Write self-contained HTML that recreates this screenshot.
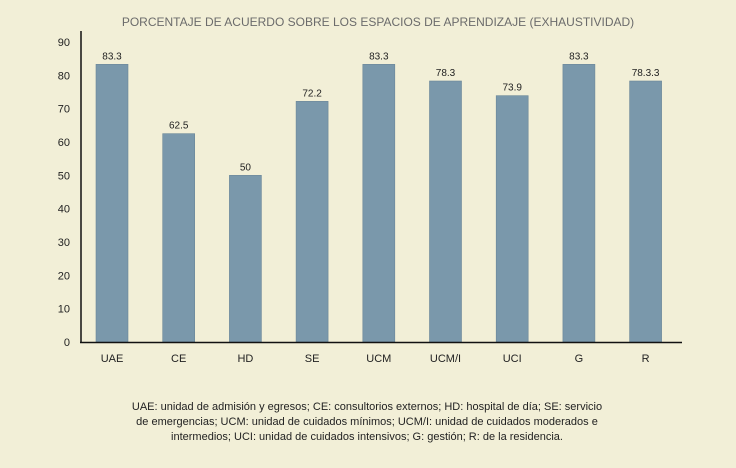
<!DOCTYPE html>
<html><head><meta charset="utf-8"><style>
html,body{margin:0;padding:0;background:#f2efd7;}
svg{display:block;font-family:"Liberation Sans",sans-serif;}
</style></head><body>
<svg width="736" height="468">
<rect x="0" y="0" width="736" height="468" fill="#f2efd7"/>
<text x="378" y="26" text-anchor="middle" font-size="12" fill="#6b6b6b">PORCENTAJE DE ACUERDO SOBRE LOS ESPACIOS DE APRENDIZAJE (EXHAUSTIVIDAD)</text>
<g id="ticks"></g>
<g id="bars"></g>
<line x1="81" y1="31" x2="81" y2="343" stroke="#111" stroke-width="1.5"/>
<line x1="80" y1="342.5" x2="682" y2="342.5" stroke="#111" stroke-width="1.5"/>
<g font-size="11" fill="#222" text-anchor="middle">
<text x="367" y="410">UAE: unidad de admisión y egresos; CE: consultorios externos; HD: hospital de día; SE: servicio</text>
<text x="367" y="425">de emergencias; UCM: unidad de cuidados mínimos; UCM/I: unidad de cuidados moderados e</text>
<text x="367" y="440">intermedios; UCI: unidad de cuidados intensivos; G: gestión; R: de la residencia.</text>
</g>
</svg>
<script>
const categories=["UAE","CE","HD","SE","UCM","UCM/I","UCI","G","R"];
const values=[83.3,62.5,50,72.2,83.3,78.3,73.9,83.3,78.3];
const valueLabels=["83.3","62.5","50","72.2","83.3","78.3","73.9","83.3","78.3.3"];
const yTicks=[0,10,20,30,40,50,60,70,80,90];
const NS="http://www.w3.org/2000/svg";
const y=v=>342-v*300/90;
const x=i=>112+i*66.7;
function mk(t,a,p){const e=document.createElementNS(NS,t);for(const k in a)e.setAttribute(k,a[k]);p.appendChild(e);return e;}
const tg=document.getElementById('ticks');
yTicks.forEach(t=>{const e=mk('text',{x:70,y:y(t)+4,'text-anchor':'end','font-size':'11',fill:'#222'},tg);e.textContent=t;

});
const bg=document.getElementById('bars');
categories.forEach((c,i)=>{
const r=mk('rect',{x:x(i)-16,y:y(values[i]),width:32,height:342-y(values[i]),fill:'#7a98ab',stroke:'#6a8698','stroke-width':'0.6'},bg);


const l=mk('text',{x:x(i),y:y(values[i])-5,'text-anchor':'middle','font-size':'10',fill:'#222'},bg);l.textContent=valueLabels[i];


const xl=mk('text',{x:x(i),y:362,'text-anchor':'middle','font-size':'11',fill:'#222'},bg);xl.textContent=c;


});
</script>
</body></html>
